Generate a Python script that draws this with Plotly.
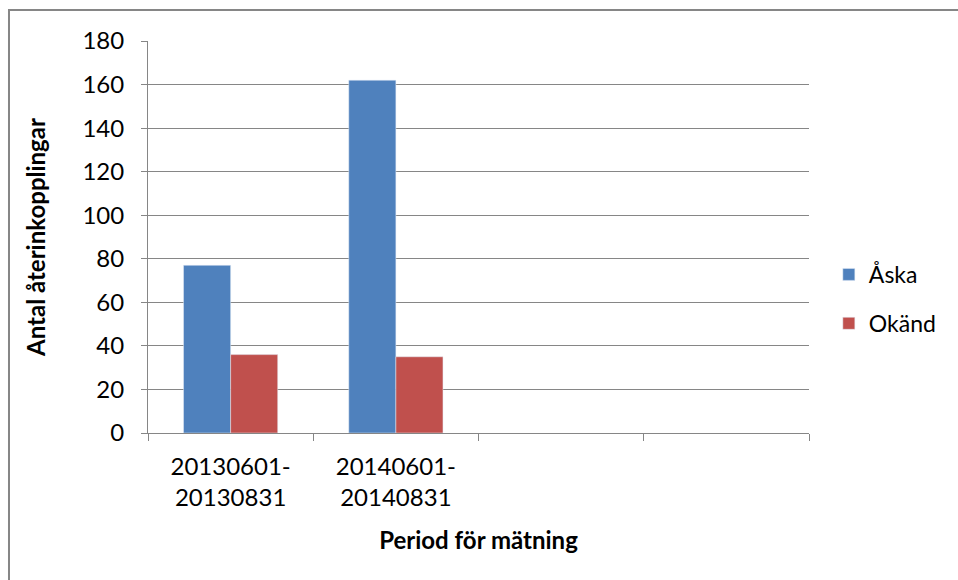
import plotly.graph_objects as go

categories = ["20130601-<br>20130831", "20140601-<br>20140831", " ", "  "]
aska = [77, 162, None, None]
okand = [36, 35, None, None]
series_names = ["Åska", "Okänd"]
y_ticks = [0, 20, 40, 60, 80, 100, 120, 140, 160, 180]

FONT = "Lato"
GRID = "#868686"

fig = go.Figure()
fig.add_trace(go.Bar(x=categories, y=aska, name=series_names[0],
                     marker=dict(color="#4F81BD"), legendgroup="a"))
fig.add_trace(go.Bar(x=categories, y=okand, name=series_names[1],
                     marker=dict(color="#C0504D"), legendgroup="b"))

fig.update_layout(
    width=958, height=580,
    margin=dict(l=148, r=149, t=41, b=147),
    paper_bgcolor="white", plot_bgcolor="white",
    barmode="group", bargap=0.43, bargroupgap=0,
    font=dict(family=FONT, size=23, color="#000000"),
    showlegend=True,
    legend=dict(x=1.03, y=0.342, xanchor="left", yanchor="middle",
                font=dict(family=FONT, size=23), tracegroupgap=16,
                bgcolor="rgba(0,0,0,0)"),
    xaxis=dict(type="category", categoryorder="array", categoryarray=categories,
               tickson="boundaries", ticks="outside", ticklen=7, tickcolor=GRID,
               showline=True, linecolor=GRID, linewidth=1, showgrid=False,
               tickfont=dict(family=FONT, size=24), ticklabelstandoff=12,
               title=dict(text="<b>Period för mätning</b>", font=dict(family=FONT, size=24), standoff=22)),
    yaxis=dict(range=[0, 180], tickvals=y_ticks, ticks="outside", ticklen=6, tickcolor=GRID,
               showline=True, linecolor=GRID, linewidth=1,
               showgrid=True, gridcolor=GRID, gridwidth=1, zeroline=False,
               tickfont=dict(family=FONT, size=24), ticklabelstandoff=12,
               title=dict(text="<b>Antal återinkopplingar</b>", font=dict(family=FONT, size=24), standoff=30)),
)

fig.add_shape(type="rect", xref="paper", yref="paper",
              x0=-0.2103, x1=1.5, y0=-0.5, y1=1.079,
              line=dict(color=GRID, width=2), fillcolor="rgba(0,0,0,0)", layer="below")

fig.write_html("out.html")
